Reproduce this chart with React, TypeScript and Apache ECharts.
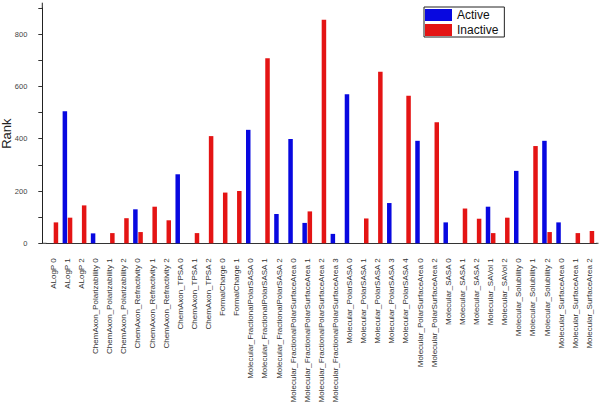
import React, { useEffect, useRef } from "react";
import * as echarts from "echarts";

const categories: string[] = [
  "ALogP 0", "ALogP 1", "ALogP 2",
  "ChemAxon_Polarizability 0", "ChemAxon_Polarizability 1", "ChemAxon_Polarizability 2",
  "ChemAxon_Refractivity 0", "ChemAxon_Refractivity 1", "ChemAxon_Refractivity 2",
  "ChemAxon_TPSA 0", "ChemAxon_TPSA 1", "ChemAxon_TPSA 2",
  "FormalCharge 0", "FormalCharge 1",
  "Molecular_FractionalPolarSASA 0", "Molecular_FractionalPolarSASA 1", "Molecular_FractionalPolarSASA 2",
  "Molecular_FractionalPolarSurfaceArea 0", "Molecular_FractionalPolarSurfaceArea 1",
  "Molecular_FractionalPolarSurfaceArea 2", "Molecular_FractionalPolarSurfaceArea 3",
  "Molecular_PolarSASA 0", "Molecular_PolarSASA 1", "Molecular_PolarSASA 2",
  "Molecular_PolarSASA 3", "Molecular_PolarSASA 4",
  "Molecular_PolarSurfaceArea 0", "Molecular_PolarSurfaceArea 2",
  "Molecular_SASA 0", "Molecular_SASA 1", "Molecular_SASA 2",
  "Molecular_SAVol 1", "Molecular_SAVol 2",
  "Molecular_Solubility 0", "Molecular_Solubility 1", "Molecular_Solubility 2",
  "Molecular_SurfaceArea 0", "Molecular_SurfaceArea 1", "Molecular_SurfaceArea 2",
];

const activeValues: (number | null)[] = [
  null, 505, null, 38, null, null, 130, null, null, 264,
  null, null, null, null, 434, null, 112, 399, 78, null,
  36, 570, null, null, 154, null, 392, null, 80, null,
  null, 140, null, 277, null, 392, 80, null, null,
];

const inactiveValues: (number | null)[] = [
  80, 98, 145, null, 39, 96, 43, 140, 88, null,
  39, 410, 194, 200, null, 708, null, null, 122, 855,
  null, null, 95, 656, null, 564, null, 463, null, 133,
  94, 39, 98, null, 372, 43, null, 39, 47,
];

const yTickLabels: number[] = [0, 200, 400, 600, 800];

const FONT = "Liberation Sans, Arial, sans-serif";

export default function App() {
  const ref = useRef<HTMLDivElement>(null);

  useEffect(() => {
    document.body.style.margin = "0";
    if (!ref.current) return;
    const chart = echarts.init(ref.current, null, { renderer: "svg" });
    chart.setOption({
      animation: false,
      backgroundColor: "#ffffff",
      grid: {
        left: 46.3,
        right: 3.6,
        top: 8,
        bottom: 165.7,
        containLabel: false,
        outerBoundsMode: "none",
      },
      legend: {
        data: ["Active", "Inactive"],
        orient: "vertical",
        left: 424,
        top: 7,
        icon: "rect",
        itemWidth: 27,
        itemHeight: 12,
        itemGap: 3,
        padding: [2, 6, 1, 1],
        borderColor: "#222",
        borderWidth: 1,
        textStyle: { fontSize: 12, color: "#111", fontFamily: FONT },
      },
      xAxis: [
        {
          type: "category",
          data: categories,
          position: "bottom",
          axisLine: { show: true, onZero: false, lineStyle: { color: "#333", width: 1 } },
          axisTick: { alignWithLabel: true, interval: 0, length: 5, lineStyle: { color: "#333" } },
          axisLabel: {
            rotate: 90,
            interval: 0,
            fontSize: 8,
            margin: 15,
            color: "#333",
            fontFamily: FONT,
          },
          splitLine: { show: false },
        },
        {
          type: "category",
          data: categories,
          position: "bottom",
          axisLine: { show: false },
          axisTick: { alignWithLabel: false, interval: 0, length: 3, lineStyle: { color: "#333" } },
          axisLabel: { show: false },
          splitLine: { show: false },
        },
      ],
      yAxis: {
        type: "value",
        min: 0,
        max: 900,
        interval: 100,
        offset: 4,
        name: "Rank",
        nameLocation: "middle",
        nameRotate: 90,
        nameGap: 29,
        nameMoveOverlap: false,
        nameTextStyle: { fontSize: 13, color: "#222", fontFamily: FONT, padding: [0, 16, 0, 0] },
        axisLine: { show: true, onZero: false, lineStyle: { color: "#222", width: 1 } },
        axisTick: { show: true, length: 4, lineStyle: { color: "#333", width: 1 } },
        axisLabel: {
          fontSize: 7.5,
          color: "#444",
          margin: 15,
          fontFamily: FONT,
          formatter: (v: number) => (yTickLabels.indexOf(v) >= 0 ? String(v) : ""),
        },
        splitLine: { show: false },
      },
      graphic: [
        { type: "line", shape: { x1: 42.3, y1: 2.7, x2: 42.3, y2: 8.5 }, style: { stroke: "#222", lineWidth: 1 }, silent: true },
        { type: "line", shape: { x1: 42.3, y1: 243.3, x2: 46.5, y2: 243.3 }, style: { stroke: "#333", lineWidth: 1 }, silent: true },
        { type: "line", shape: { x1: 596, y1: 243.3, x2: 598.5, y2: 243.3 }, style: { stroke: "#333", lineWidth: 1 }, silent: true },
      ],
      series: [
        {
          name: "Active",
          type: "bar",
          data: activeValues,
          barWidth: 4.5,
          barGap: "15%",
          itemStyle: { color: "#0808e0" },
        },
        {
          name: "Inactive",
          type: "bar",
          data: inactiveValues,
          barWidth: 4.5,
          barGap: "15%",
          itemStyle: { color: "#e41414" },
        },
      ],
    });
    return () => chart.dispose();
  }, []);

  return <div ref={ref} style={{ width: 600, height: 409 }} />;
}
